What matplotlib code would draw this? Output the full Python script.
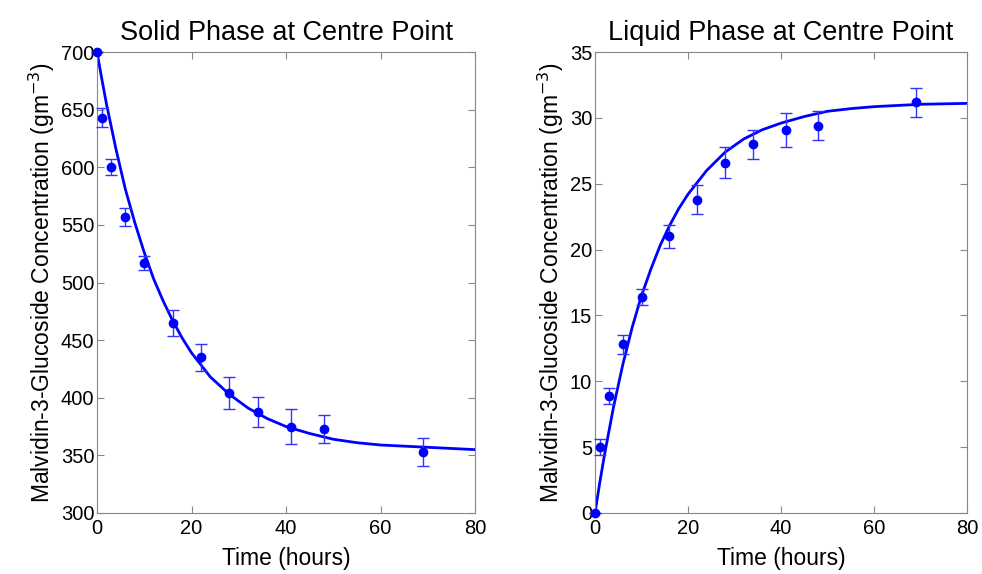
import numpy as np
import matplotlib
matplotlib.use('Agg')
from matplotlib import pyplot as plt

plt.rcParams['font.family'] = ['Liberation Sans', 'DejaVu Sans']

# measured points (time in hours)
t_meas = [0, 1, 3, 6, 10, 16, 22, 28, 34, 41, 48, 69]
solid_meas = [700, 643, 600, 557, 517, 465, 435, 404, 388, 375, 373, 353]
solid_err = [0, 8, 7, 8, 6, 11, 12, 14, 13, 15, 12, 12]
liquid_meas = [0, 5.0, 8.9, 12.8, 16.4, 21.0, 23.8, 26.6, 28.0, 29.1, 29.4, 31.2]
liquid_err = [0, 0.6, 0.6, 0.7, 0.6, 0.9, 1.1, 1.2, 1.1, 1.3, 1.1, 1.1]

# model curves
t_model = [0, 1, 2, 4, 6, 8, 10, 12, 14, 16, 18, 20, 24, 28, 32, 36, 40, 45, 50, 55, 60, 70, 80]
solid_model = [700, 677, 655, 616, 581, 552, 526, 503, 484, 467, 452, 439, 418, 403, 391,
               382, 375, 369, 364, 361, 359, 357, 355]
liquid_model = [0, 2.25, 4.34, 8.08, 11.3, 14.1, 16.5, 18.5, 20.3, 21.8, 23.1, 24.2, 26.0,
                27.4, 28.4, 29.1, 29.6, 30.1, 30.5, 30.7, 30.85, 31.03, 31.1]

fig = plt.figure(figsize=(9.82, 5.74), dpi=100)
ax1 = fig.add_axes([97/982, 1-513/574, 378/982, 461/574])
ax2 = fig.add_axes([595/982, 1-513/574, 372/982, 461/574])

panels = [
    (ax1, solid_model, solid_meas, solid_err, 'Solid Phase at Centre Point', (300, 700), 50),
    (ax2, liquid_model, liquid_meas, liquid_err, 'Liquid Phase at Centre Point', (0, 35), 5),
]

for ax, model, meas, err, title, ylim, ystep in panels:
    ax.plot(t_model, model, color='#0000ff', lw=2, zorder=2)
    ax.errorbar(t_meas, meas, yerr=err, fmt='o', color='#0000ff', ms=6,
                ecolor='#3333ff', elinewidth=1, capsize=4, capthick=1, zorder=3,
                clip_on=False)
    ax.set_xlim(0, 80)
    ax.set_ylim(*ylim)
    ax.set_xticks(np.arange(0, 81, 20))
    ax.set_yticks(np.arange(ylim[0], ylim[1] + 0.1, ystep))
    ax.set_title(title, fontsize=19.5, pad=9)
    ax.set_xlabel('Time (hours)', fontsize=16.5, labelpad=7)
    ax.set_ylabel('Malvidin-3-Glucoside Concentration (gm$^{-3}$)', fontsize=16.5, labelpad=3)
    ax.tick_params(direction='in', top=True, right=True, labelsize=14.5, length=5,
                   color='#888888')
    ax.tick_params(axis='x', pad=4)
    ax.tick_params(axis='y', pad=2)
    for s in ax.spines.values():
        s.set_color('#888888')

fig.savefig('out.png', dpi=100)
